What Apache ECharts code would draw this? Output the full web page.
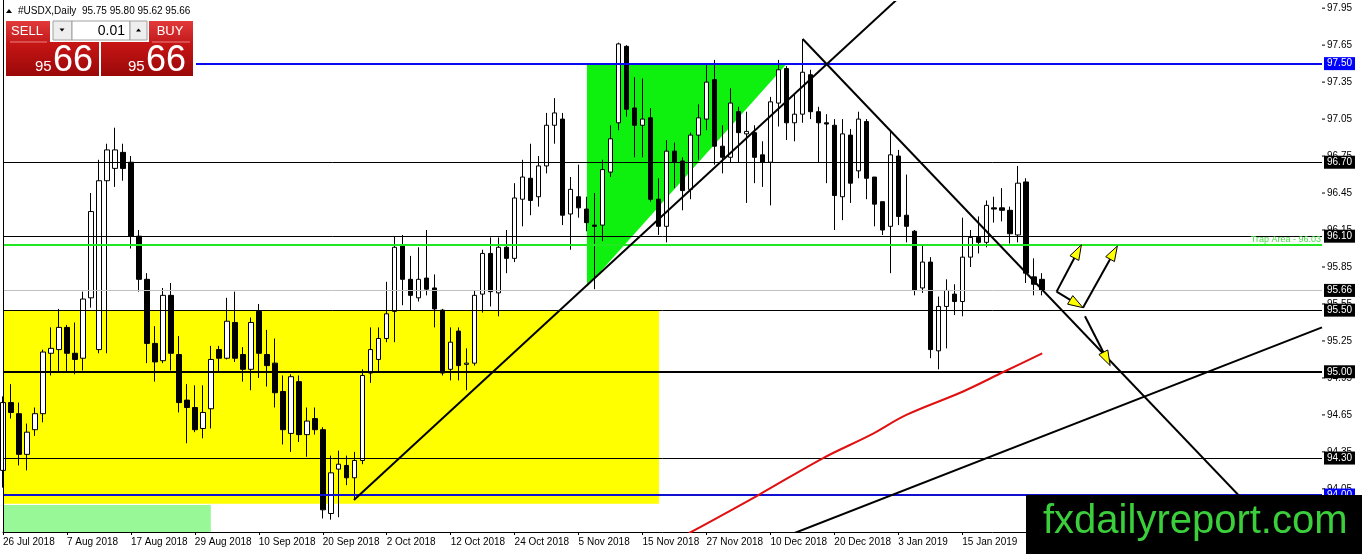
<!DOCTYPE html>
<html><head><meta charset="utf-8">
<script src="https://cdn.jsdelivr.net/npm/echarts@6.0.0/dist/echarts.min.js"></script>
<style>html,body{margin:0;padding:0;background:#fff;}#c{width:1362px;height:554px;}</style>
</head><body><div id="c"></div>
<script>
// ---------- data ----------
const tradingDays = [
  ['Jul 2018', [26,27,30,31]],
  ['Aug 2018', [1,2,3,6,7,8,9,10,13,14,15,16,17,20,21,22,23,24,27,28,29,30,31]],
  ['Sep 2018', [3,4,5,6,7,10,11,12,13,14,17,18,19,20,21,24,25,26,27,28]],
  ['Oct 2018', [1,2,3,4,5,8,9,10,11,12,15,16,17,18,19,22,23,24,25,26,29,30,31]],
  ['Nov 2018', [1,2,5,6,7,8,9,12,13,14,15,16,19,20,21,22,23,26,27,28,29,30]],
  ['Dec 2018', [3,4,6,7,10,11,12,13,14,17,18,19,20,21,24,26,27,28,31]],
  ['Jan 2019', [2,3,4,7,8,9,10,11,14,15,16,17,18,21,22,23,24,25,28,29]]
];
const emptyFutureBars = 35;

// [open, close, low, high]
const candles = [
[94.20,94.75,94.06,94.80],[94.75,94.67,94.62,94.90],[94.66,94.33,94.24,94.75],[94.33,94.51,94.20,94.58],
[94.53,94.66,94.48,94.71],[94.66,95.16,94.59,95.18],[95.15,95.19,94.97,95.36],[95.18,95.36,95.00,95.51],
[95.36,95.15,95.00,95.38],[95.15,95.10,94.98,95.40],[95.11,95.59,95.01,95.65],[95.60,96.30,95.52,96.45],
[95.18,96.55,95.15,96.72],[96.55,96.80,95.15,96.85],[96.65,96.80,96.50,96.98],[96.78,96.65,96.55,96.85],
[96.70,96.10,96.00,96.75],[96.10,95.75,95.65,96.15],[95.75,95.23,95.07,95.80],[95.23,95.08,94.92,95.37],
[95.09,95.62,95.07,95.68],[95.62,95.15,95.01,95.72],[95.14,94.75,94.67,95.29],[94.77,94.71,94.42,94.90],
[94.71,94.53,94.51,94.89],[94.54,94.67,94.46,94.89],[94.70,95.10,94.54,95.21],[95.18,95.11,95.00,95.21],
[95.11,95.41,95.10,95.60],[95.40,95.11,95.08,95.65],[95.14,95.02,94.92,95.20],[95.02,95.40,94.85,95.44],
[95.49,95.15,94.95,95.55],[95.14,95.05,94.88,95.34],[95.07,94.83,94.71,95.27],[94.84,94.53,94.41,94.97],
[94.50,94.96,94.35,94.98],[94.92,94.49,94.43,94.97],[94.49,94.60,94.31,94.71],[94.62,94.53,94.49,94.71],
[94.53,93.88,93.81,94.55],[93.85,94.18,93.80,94.32],[94.21,94.25,93.82,94.36],[94.24,94.14,94.08,94.32],
[94.14,94.28,93.96,94.35],[94.28,94.97,94.25,95.02],[94.99,95.18,94.91,95.36],[95.10,95.27,95.00,95.36],
[95.27,95.47,95.24,95.73],[95.49,96.01,95.24,96.10],[96.02,95.75,95.54,96.11],[95.75,95.62,95.50,95.94],
[95.60,95.75,95.57,96.01],[95.76,95.67,95.62,96.15],[95.68,95.51,95.36,95.79],[95.50,94.99,94.97,95.51],
[95.02,95.24,94.93,95.36],[95.33,95.05,94.93,95.36],[95.06,95.07,94.85,95.19],[95.07,95.62,95.05,95.66],
[95.63,95.96,95.48,95.99],[95.96,95.65,95.53,96.09],[95.64,96.01,95.45,96.09],[96.01,95.92,95.80,96.15],
[95.92,96.41,95.89,96.53],[96.40,96.58,96.18,96.72],[96.57,96.39,96.27,96.85],[96.42,96.67,96.34,96.75],
[96.67,97.00,96.61,97.10],[97.00,97.10,96.85,97.22],[97.05,96.27,96.19,97.10],[96.28,96.48,95.99,96.58],
[96.42,96.33,96.25,96.68],[96.32,96.21,96.14,96.42],[96.19,96.18,95.67,96.45],[96.19,96.64,96.06,96.72],
[96.62,96.89,96.58,97.00],[97.02,97.66,96.96,97.67],[97.64,97.13,97.07,97.65],[97.14,97.00,96.74,97.39],
[97.00,97.05,96.74,97.38],[97.06,96.40,96.38,97.14],[96.40,96.18,96.11,96.57],[96.18,96.79,96.05,96.88],
[96.79,96.70,96.49,96.86],[96.71,96.47,96.31,96.74],[96.48,96.92,96.40,96.94],[96.92,97.06,96.72,97.17],
[97.05,97.35,96.96,97.49],[97.37,96.83,96.68,97.53],[96.83,96.74,96.61,97.00],[96.74,97.18,96.70,97.30],
[97.11,96.94,96.70,97.15],[96.93,96.95,96.37,97.11],[96.94,96.74,96.53,97.00],[96.76,96.70,96.50,96.87],
[96.70,97.19,96.35,97.23],[97.18,97.45,96.99,97.53],[97.46,97.02,96.88,97.48],[97.02,97.09,96.87,97.25],
[97.09,97.43,97.02,97.70],[97.41,97.11,97.05,97.45],[97.11,97.02,96.70,97.15],[97.02,97.01,96.53,97.09],
[97.00,96.43,96.15,97.05],[96.42,96.93,96.23,97.05],[96.92,96.53,96.37,96.97],[96.63,97.05,96.57,97.11],
[97.03,96.57,96.40,97.05],[96.58,96.36,96.18,96.58],[96.38,96.15,96.11,96.38],[96.18,96.76,95.80,96.95],
[96.75,96.26,96.19,96.80],[96.27,96.18,96.05,96.60],[96.14,95.66,95.62,96.15],[95.68,95.89,95.64,96.03],
[95.89,95.18,95.11,95.93],[95.17,95.53,95.02,95.61],[95.53,95.66,95.19,95.75],[95.63,95.57,95.46,95.71],
[95.57,95.93,95.45,96.25],[95.93,96.09,95.85,96.15],[96.09,96.05,95.96,96.26],[96.05,96.35,96.01,96.39],
[96.33,96.32,96.21,96.42],[96.33,96.31,96.22,96.49],[96.31,96.12,96.04,96.34],[96.11,96.53,96.05,96.67],
[96.54,95.80,95.72,96.57],[95.77,95.71,95.62,95.92],[95.75,95.66,95.62,95.80]
];

const priceTicks = [94.05,94.35,94.65,94.95,95.25,95.55,95.85,96.15,96.45,96.75,97.05,97.35,97.65,97.95];

// horizontal levels: [value, colour, width, tag background]
const levels = [
  [97.50, '#0a0af0', 2, '#0000ff'],
  [96.70, '#000000', 1, '#000000'],
  [96.10, '#000000', 1, '#000000'],
  [95.66, '#c0c0c0', 1, '#000000'],
  [95.50, '#000000', 1, '#000000'],
  [95.00, '#000000', 2, '#000000'],
  [94.30, '#000000', 1, '#000000'],
  [94.00, '#1010d0', 2, '#0000ff']
];
const trapLevel = 96.03;
const trapText = 'Trap Area - 96.03';

// zones [x1, y1, x2, y2] in bar index / price
const zones = [[0, 95.50, 82.06, 93.93], [0, 93.92, 26.0, 93.70]];
const zoneColors = ['#ffff00', '#98f898'];
const greenTriangle = [[73.05, 97.50], [98.05, 97.50], [73.05, 95.69]];

const trendUp = [[43.9, 93.96], [115, 98.21]];
const trendDown = [[100.04, 97.70], [165, 93.29]];
const channelLine = [[98.95, 93.69], [165, 95.36]];
const maLine = [[85.8, 93.69], [94.5, 94.00], [102.6, 94.30], [108.6, 94.49], [113.0, 94.65], [120.1, 94.84], [125.2, 95.00], [130.0, 95.15]];
const arrows = [
  [131.8, 95.65, 134.9, 96.03],
  [131.8, 95.65, 135.1, 95.52],
  [135.1, 95.52, 139.4, 96.02],
  [135.35, 95.45, 138.5, 95.05]
];

// ---------- build ----------
const categories = [];
tradingDays.forEach(([m, ds]) => ds.forEach(d => categories.push(d + ' ' + m)));
for (let i = 0; i < emptyFutureBars; i++) categories.push('');

const FF = "'Liberation Sans', Arial, sans-serif";
const chart = echarts.init(document.getElementById('c'), null, {renderer: 'canvas'});

function rectItem(params, api) {
  const p1 = api.coord([api.value(0), api.value(1)]);
  const p2 = api.coord([api.value(2), api.value(3)]);
  return {type: 'rect', shape: {x: Math.min(p1[0], p2[0]), y: Math.min(p1[1], p2[1]),
    width: Math.abs(p2[0] - p1[0]), height: Math.abs(p2[1] - p1[1])},
    style: {fill: zoneColors[params.dataIndex]}};
}
function triItem(params, api) {
  if (params.dataIndex !== 0) return null;
  return {type: 'polygon', shape: {points: greenTriangle.map(p => api.coord(p))}, style: {fill: '#0ef00e'}};
}
function arrowItem(params, api) {
  const a = api.coord([api.value(0), api.value(1)]);
  const b = api.coord([api.value(2), api.value(3)]);
  const dx = b[0] - a[0], dy = b[1] - a[1], L = Math.hypot(dx, dy), ux = dx / L, uy = dy / L;
  const hl = 15, hw = 5;
  const bx = b[0] - ux * hl, by = b[1] - uy * hl;
  return {type: 'group', children: [
    {type: 'line', shape: {x1: a[0], y1: a[1], x2: bx, y2: by}, style: {stroke: '#000', lineWidth: 2}},
    {type: 'polygon', shape: {points: [[b[0], b[1]], [bx - uy * hw, by + ux * hw], [bx + uy * hw, by - ux * hw]]},
      style: {fill: '#ffff00', stroke: '#000', lineWidth: 1}}
  ]};
}
// price-scale tick marks on the right edge (outside the plot)
function tickItem(params, api) {
  const p = api.coord([165, api.value(0)]);
  return {type: 'line', shape: {x1: p[0], y1: p[1], x2: p[0] + 3, y2: p[1]}, style: {stroke: '#000', lineWidth: 1}};
}

const markData = levels.map(([v, col, w, bg]) => ({
  yAxis: v,
  lineStyle: {color: col, width: w, type: 'solid'},
  label: {show: true, position: 'end', distance: 2, formatter: v.toFixed(2), backgroundColor: bg,
    color: '#fff', padding: [2, 3, 1, 3], fontSize: 10, fontFamily: FF}
}));
markData.push({
  yAxis: trapLevel,
  lineStyle: {color: '#22e822', width: 2, type: 'solid'},
  label: {show: true, position: 'insideEndTop', distance: 1, formatter: trapText, color: '#44dd44',
    fontSize: 9, fontFamily: FF}
});

const lineSeries = (data, color, width, z, smooth) => ({
  type: 'line', xAxisIndex: 1, yAxisIndex: 0, data, symbol: 'none', silent: true, clip: true, z,
  smooth: smooth || false, lineStyle: {color, width}, animation: false
});

const redGrad = (a, b) => new echarts.graphic.LinearGradient(0, 0, 0, 1, [{offset: 0, color: a}, {offset: 1, color: b}]);

const option = {
  animation: false,
  backgroundColor: '#ffffff',
  grid: {left: 3, right: 40, top: 2, bottom: 22, containLabel: false},
  xAxis: [
    {type: 'category', data: categories, boundaryGap: false,
      axisLine: {show: true, lineStyle: {color: '#000', width: 1}},
      axisTick: {show: true, interval: 7, length: 3, lineStyle: {color: '#000'}},
      axisLabel: {interval: 7, align: 'left', margin: 5, fontSize: 10, color: '#000', fontFamily: FF},
      splitLine: {show: false}},
    {type: 'value', min: 0, max: 165, show: false}
  ],
  yAxis: [
    {type: 'value', position: 'right', min: 93.7, max: 98.0,
      axisLine: {show: true, lineStyle: {color: '#000', width: 1}},
      axisTick: {show: false},
      minorTick: {show: false},
      axisLabel: {customValues: priceTicks, formatter: v => v.toFixed(2), margin: 5, fontSize: 10, color: '#000', fontFamily: FF},
      splitLine: {show: false}, minorSplitLine: {show: false}}
  ],
  series: [
    {type: 'custom', xAxisIndex: 1, yAxisIndex: 0, data: zones, renderItem: rectItem, encode: {x: [0, 2], y: [1, 3]}, clip: true, silent: true, z: 1},
    {type: 'custom', xAxisIndex: 1, yAxisIndex: 0, data: greenTriangle, renderItem: triItem, encode: {x: 0, y: 1}, clip: true, silent: true, z: 1},
    {type: 'candlestick', xAxisIndex: 0, yAxisIndex: 0, data: candles, barWidth: 5, silent: true, z: 3, clip: true,
      itemStyle: {color: '#ffffff', color0: '#000000', borderColor: '#000000', borderColor0: '#000000', borderWidth: 1},
      markLine: {symbol: ['none', 'none'], silent: true, animation: false, data: markData}},
    lineSeries(trendUp, '#000', 2, 6),
    lineSeries(trendDown, '#000', 2, 6),
    lineSeries(channelLine, '#000', 2, 6),
    lineSeries(maLine, '#e01010', 2, 6, 0.35),
    {type: 'custom', xAxisIndex: 1, yAxisIndex: 0, data: arrows, renderItem: arrowItem, encode: {x: [0, 2], y: [1, 3]}, clip: false, silent: true, z: 8},
    {type: 'custom', xAxisIndex: 1, yAxisIndex: 0, data: priceTicks.map(v => [v]), renderItem: tickItem, encode: {y: 0}, clip: false, silent: true, z: 8}
  ],
  graphic: [
    // chart frame, left side
    {type: 'line', shape: {x1: 3.5, y1: 0, x2: 3.5, y2: 532}, style: {stroke: '#000', lineWidth: 1}, z: 50},
    // symbol title
    {type: 'polygon', shape: {points: [[6, 13], [12, 13], [9, 9]]}, style: {fill: '#000'}, z: 100},
    {type: 'text', x: 18, y: 11, style: {text: '#USDX,Daily  95.75 95.80 95.62 95.66', font: '10px ' + FF, fill: '#000', verticalAlign: 'middle'}, z: 100},
    // one-click trading panel
    {type: 'rect', shape: {x: 4, y: 17, width: 192, height: 62}, style: {fill: '#ffffff'}, z: 100},
    {type: 'rect', shape: {x: 6, y: 21, width: 44, height: 21}, style: {fill: redGrad('#e23a3a', '#c41c1c')}, z: 101},
    {type: 'rect', shape: {x: 149, y: 21, width: 44, height: 21}, style: {fill: redGrad('#e23a3a', '#c41c1c')}, z: 101},
    {type: 'rect', shape: {x: 6, y: 42, width: 93, height: 34}, style: {fill: redGrad('#c81616', '#9a0808')}, z: 101},
    {type: 'rect', shape: {x: 101, y: 42, width: 92, height: 34}, style: {fill: redGrad('#c81616', '#9a0808')}, z: 101},
    {type: 'line', shape: {x1: 10, y1: 42, x2: 47, y2: 42}, style: {stroke: '#f08080', lineWidth: 1}, z: 102},
    {type: 'line', shape: {x1: 152, y1: 42, x2: 190, y2: 42}, style: {stroke: '#f08080', lineWidth: 1}, z: 102},
    {type: 'rect', shape: {x: 53, y: 21, width: 19, height: 19}, style: {fill: '#eeeeee', stroke: '#a0a0a0', lineWidth: 1}, z: 101},
    {type: 'rect', shape: {x: 72, y: 21, width: 58, height: 19}, style: {fill: '#ffffff', stroke: '#a0a0a0', lineWidth: 1}, z: 101},
    {type: 'rect', shape: {x: 130, y: 21, width: 17, height: 19}, style: {fill: '#eeeeee', stroke: '#a0a0a0', lineWidth: 1}, z: 101},
    {type: 'polygon', shape: {points: [[59.5, 28.5], [64.5, 28.5], [62, 31.5]]}, style: {fill: '#000'}, z: 102},
    {type: 'polygon', shape: {points: [[136, 31.5], [141, 31.5], [138.5, 28.5]]}, style: {fill: '#000'}, z: 102},
    {type: 'text', x: 125, y: 31, style: {text: '0.01', font: '14px ' + FF, fill: '#000', align: 'right', verticalAlign: 'middle'}, z: 102},
    {type: 'text', x: 27, y: 31, style: {text: 'SELL', font: '13px ' + FF, fill: '#fff', align: 'center', verticalAlign: 'middle'}, z: 102},
    {type: 'text', x: 170, y: 31, style: {text: 'BUY', font: '13px ' + FF, fill: '#fff', align: 'center', verticalAlign: 'middle'}, z: 102},
    {type: 'text', x: 35, y: 67, style: {text: '95', font: '15px ' + FF, fill: '#fff', verticalAlign: 'middle'}, z: 102},
    {type: 'text', x: 53, y: 61, style: {text: '66', font: '36px ' + FF, fill: '#fff', verticalAlign: 'middle'}, z: 102},
    {type: 'text', x: 128, y: 67, style: {text: '95', font: '15px ' + FF, fill: '#fff', verticalAlign: 'middle'}, z: 102},
    {type: 'text', x: 146, y: 61, style: {text: '66', font: '36px ' + FF, fill: '#fff', verticalAlign: 'middle'}, z: 102},
    // watermark
    {type: 'rect', shape: {x: 1026, y: 495, width: 336, height: 59}, style: {fill: '#000'}, z: 200},
    {type: 'text', x: 1043, y: 522, style: {text: 'fxdailyreport.com', font: '40px ' + FF, fill: '#3ccf3c', verticalAlign: 'middle'}, z: 201}
  ]
};
chart.setOption(option);
</script>
</body></html>
